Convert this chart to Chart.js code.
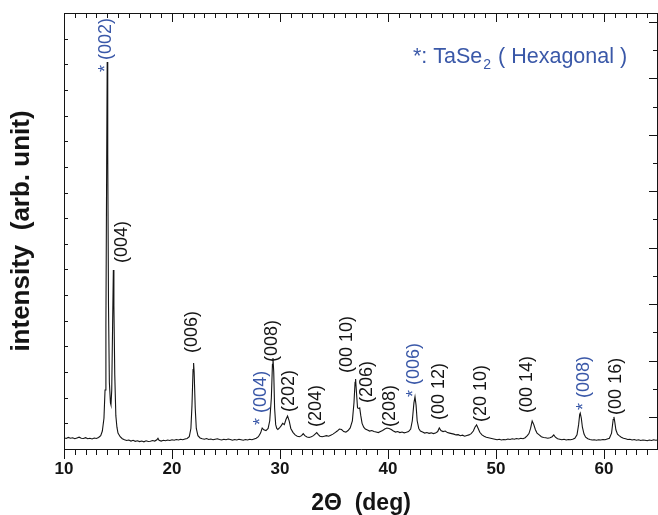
<!DOCTYPE html>
<html lang="en">
<head>
    <title>TaSe2 XRD pattern</title>
    <script src="https://cdn.jsdelivr.net/npm/chart.js"></script>
    <style>
        body {
            margin: 0;
            background: #fff;
        }
        #xrdChart {
            display: block;
        }
    </style>
</head>
<body>
    <canvas id="xrdChart" width="658" height="515"></canvas>

    <script>
        const seg10to20 = [
            [10.0,44],[10.2,41],[10.4,45],[10.6,42],[10.8,44],[11.0,40],[11.2,43],[11.4,46],[11.6,42],[11.8,41],
            [12.0,44],[12.2,40],[12.4,42],[12.6,39],[12.8,43],[13.0,41],[13.2,45],[13.4,52],[13.55,70],[13.7,120],
            [13.8,230],[13.88,480],[13.95,1100],[14.0,1509],[14.05,1150],[14.12,560],[14.2,260],[14.3,180],[14.35,172],[14.42,230],
            [14.5,480],[14.57,698],[14.62,560],[14.7,290],[14.8,130],[14.9,85],[15.0,62],[15.2,48],[15.4,40],[15.6,36],
            [15.8,33],[16.0,35],[16.2,31],[16.4,34],[16.6,30],[16.8,32],[17.0,29],[17.2,31],[17.4,28],[17.6,32],
            [17.8,29],[18.0,30],[18.2,33],[18.4,31],[18.6,36],[18.7,42],[18.8,34],[19.0,31],[19.2,34],[19.4,32],
            [19.6,35],[19.8,33]
        ];
        const seg20to30 = [
            [20.0,36],[20.2,34],[20.4,37],[20.6,35],[20.8,38],[21.0,36],[21.2,39],[21.4,41],[21.6,48],[21.75,80],
            [21.85,170],[21.95,310],[22.0,335],[22.05,300],[22.15,160],[22.25,80],[22.4,52],[22.6,43],[22.8,40],[23.0,38],
            [23.2,41],[23.4,37],[23.6,39],[23.8,36],[24.0,38],[24.2,40],[24.4,37],[24.6,35],[24.8,38],[25.0,36],
            [25.2,39],[25.4,37],[25.6,34],[25.8,37],[26.0,35],[26.2,38],[26.4,36],[26.6,34],[26.8,37],[27.0,35],
            [27.2,38],[27.4,36],[27.6,39],[27.8,42],[28.0,48],[28.2,62],[28.35,82],[28.5,75],[28.7,72],[28.9,80],
            [29.05,110],[29.2,200],[29.3,330],[29.35,355],[29.42,300],[29.5,160],[29.6,95],[29.7,80],[29.8,76],[29.95,82]
        ];
        const seg30to40 = [
            [30.1,90],[30.25,100],[30.4,95],[30.55,115],[30.7,129],[30.85,110],[31.0,80],[31.2,65],[31.4,55],[31.6,50],
            [31.8,48],[32.0,52],[32.15,60],[32.3,52],[32.5,47],[32.7,45],[32.9,48],[33.1,52],[33.3,60],[33.4,64],
            [33.55,56],[33.7,50],[33.9,48],[34.1,50],[34.3,52],[34.5,50],[34.7,54],[34.9,58],[35.1,64],[35.3,70],
            [35.5,78],[35.7,76],[35.9,68],[36.1,66],[36.3,72],[36.5,82],[36.7,110],[36.85,180],[36.95,260],[37.0,273],
            [37.08,220],[37.18,160],[37.3,158],[37.38,160],[37.48,130],[37.6,100],[37.75,85],[37.9,78],[38.1,74],[38.3,70],
            [38.5,72],[38.7,68],[38.9,66],[39.1,64],[39.3,68],[39.5,72],[39.7,78],[39.9,82]
        ];
        const seg40to50 = [
            [40.1,80],[40.3,76],[40.5,70],[40.7,66],[40.9,68],[41.1,64],[41.3,66],[41.5,63],[41.7,65],[41.9,68],
            [42.1,78],[42.25,110],[42.4,180],[42.5,203],[42.6,170],[42.7,110],[42.85,80],[43.0,70],[43.2,66],[43.4,62],
            [43.6,64],[43.8,61],[44.0,63],[44.2,60],[44.4,62],[44.6,68],[44.75,82],[44.9,72],[45.1,68],[45.3,70],
            [45.5,64],[45.7,62],[45.9,60],[46.1,58],[46.3,55],[46.5,56],[46.7,52],[46.9,54],[47.1,50],[47.3,53],
            [47.5,55],[47.7,60],[47.9,70],[48.05,85],[48.2,94],[48.35,80],[48.5,65],[48.7,55],[48.9,50],[49.1,46],
            [49.3,44],[49.5,42],[49.7,40],[49.9,38]
        ];
        const seg50to65 = [
            [50.1,36],[50.3,38],[50.5,35],[50.7,37],[50.9,36],[51.1,39],[51.3,37],[51.5,40],[51.7,38],[51.9,41],
            [52.1,39],[52.3,42],[52.5,40],[52.7,44],[52.9,52],[53.05,60],[53.2,80],[53.35,109],[53.5,95],[53.65,75],
            [53.8,62],[54.0,55],[54.2,48],[54.4,45],[54.6,44],[54.8,42],[55.0,44],[55.2,48],[55.35,55],[55.5,46],
            [55.7,40],[55.9,38],[56.1,36],[56.3,38],[56.5,35],[56.7,37],[56.9,36],[57.1,38],[57.3,42],[57.5,55],
            [57.65,95],[57.75,135],[57.8,140],[57.9,120],[58.0,85],[58.15,58],[58.3,46],[58.5,40],[58.7,37],[58.9,35],
            [59.1,36],[59.3,34],[59.5,36],[59.7,35],[59.9,37],[60.1,36],[60.3,39],[60.5,42],[60.7,62],[60.85,115],
            [60.92,125],[61.0,105],[61.1,75],[61.25,58],[61.4,52],[61.6,46],[61.8,42],[62.0,40],[62.2,37],[62.4,38],
            [62.6,35],[62.8,37],[63.0,34],[63.2,36],[63.4,33],[63.6,35],[63.8,34],[64.0,32],[64.2,35],[64.4,33],
            [64.6,36],[64.8,34],[65.0,35]
        ];

        // peak annotations: text, 2theta of the label, counts where the text starts, TaSe2 or not
        const peakText  = ['* (002)', '(004)', '(006)', '* (004)', '(008)', '(202)', '(204)', '(00 10)',
                           '(206)', '(208)', '* (006)', '(00 12)', '(20 10)', '(00 14)', '* (008)', '(00 16)'];
        const peakAt    = [13.93, 15.41, 21.89, 28.27, 29.29, 30.86, 33.36, 36.23,
                           38.10, 40.16, 42.40, 44.73, 48.62, 52.87, 58.15, 61.10];
        const peakBase  = [1470, 725, 374, 94, 339, 144, 86, 296,
                           179, 86, 203, 113, 105, 140, 152, 133];
        const peakTaSe2 = [true, false, false, true, false, false, false, false,
                           false, false, true, false, false, false, true, false];

        // axis ticks
        const xMajorTicks = [10, 20, 30, 40, 50, 60];
        const leftTicks = [100, 200, 300, 400, 500, 600, 700, 800, 900, 1000, 1100, 1200, 1300, 1400, 1500, 1600];
        const rightMajorTicks = [125, 345, 565, 785, 1005, 1225, 1445, 1665];
        const rightMinorTicks = [235, 455, 675, 895, 1115, 1335, 1555];

        const BLUE = '#3a58a8';
        const INK = '#141414';
        const FONT = 'Arial, "Liberation Sans", Helvetica, sans-serif';

        const pattern = [].concat(seg10to20, seg20to30, seg30to40, seg40to50, seg50to65)
            .map(p => ({ x: p[0], y: p[1] }));

        // frame ticks, top/right lines, peak labels and the phase note
        const decorations = {
            id: 'decorations',
            afterDraw(chart) {
                const ctx = chart.ctx;
                const xs = chart.scales.x;
                const ys = chart.scales.y;
                const a = chart.chartArea;

                ctx.save();
                ctx.strokeStyle = INK;
                ctx.lineWidth = 1;

                // top and right frame lines
                ctx.beginPath();
                ctx.moveTo(a.left, a.top + 0.5);
                ctx.lineTo(a.right, a.top + 0.5);
                ctx.moveTo(a.right - 0.5, a.top);
                ctx.lineTo(a.right - 0.5, a.bottom);
                ctx.stroke();

                // bottom ticks (outward) and top ticks (inward), every degree
                ctx.beginPath();
                for (let d = 10; d <= 65; d++) {
                    const px = Math.round(xs.getPixelForValue(d)) + 0.5;
                    const major = xMajorTicks.includes(d);
                    ctx.moveTo(px, a.bottom);
                    ctx.lineTo(px, a.bottom + (major ? 10 : 6));
                    ctx.moveTo(px, a.top);
                    ctx.lineTo(px, a.top + (major ? 9 : 5));
                }
                // left ticks (inward)
                leftTicks.forEach(v => {
                    const py = Math.round(ys.getPixelForValue(v)) + 0.5;
                    ctx.moveTo(a.left, py);
                    ctx.lineTo(a.left + 4, py);
                });
                // right ticks (inward)
                rightMajorTicks.forEach(v => {
                    const py = Math.round(ys.getPixelForValue(v)) + 0.5;
                    ctx.moveTo(a.right, py);
                    ctx.lineTo(a.right - 9, py);
                });
                rightMinorTicks.forEach(v => {
                    const py = Math.round(ys.getPixelForValue(v)) + 0.5;
                    ctx.moveTo(a.right, py);
                    ctx.lineTo(a.right - 5, py);
                });
                ctx.stroke();

                // rotated peak labels
                ctx.font = '18px ' + FONT;
                ctx.textAlign = 'left';
                ctx.textBaseline = 'middle';
                peakText.forEach((t, i) => {
                    ctx.save();
                    ctx.translate(xs.getPixelForValue(peakAt[i]), ys.getPixelForValue(peakBase[i]));
                    ctx.rotate(-Math.PI / 2);
                    ctx.fillStyle = peakTaSe2[i] ? BLUE : INK;
                    ctx.fillText(t, 0, 0);
                    ctx.restore();
                });

                // phase note with subscript
                ctx.fillStyle = BLUE;
                ctx.textBaseline = 'alphabetic';
                let tx = a.left + 349;
                const ty = a.top + 50;
                ctx.font = '21.5px ' + FONT;
                ctx.fillText('*: TaSe', tx, ty);
                tx += ctx.measureText('*: TaSe').width;
                ctx.font = '14px ' + FONT;
                ctx.fillText('2', tx + 1, ty + 6);
                tx += ctx.measureText('2').width + 2;
                ctx.font = '21.5px ' + FONT;
                ctx.fillText(' ( Hexagonal )', tx, ty);

                ctx.restore();
            }
        };

        new Chart(document.getElementById('xrdChart'), {
            type: 'line',
            data: {
                datasets: [{
                    data: pattern,
                    borderColor: INK,
                    borderWidth: 1.1,
                    pointRadius: 0,
                    tension: 0,
                    fill: false
                }]
            },
            options: {
                responsive: false,
                devicePixelRatio: 1,
                animation: false,
                parsing: false,
                layout: {
                    padding: { top: 13, right: 0, left: 0, bottom: 0 }
                },
                plugins: {
                    legend: { display: false },
                    tooltip: { enabled: false }
                },
                scales: {
                    x: {
                        type: 'linear',
                        min: 10,
                        max: 65,
                        afterFit: s => { s.height = 66; },
                        grid: { display: false, drawTicks: false },
                        border: { display: true, color: INK, width: 1 },
                        ticks: {
                            stepSize: 10,
                            includeBounds: false,
                            padding: 10,
                            color: INK,
                            font: { family: FONT, size: 17, weight: 'bold' },
                            maxRotation: 0,
                            callback: v => (v % 10 === 0 ? v : null)
                        },
                        title: {
                            display: true,
                            text: '2\u0398  (deg)',
                            color: INK,
                            font: { family: FONT, size: 23, weight: 'bold' },
                            padding: { top: 0, bottom: -2 }
                        }
                    },
                    y: {
                        type: 'linear',
                        min: 0,
                        max: 1700,
                        afterFit: s => { s.width = 64; },
                        grid: { display: false, drawTicks: false },
                        border: { display: true, color: INK, width: 1 },
                        ticks: { display: false },
                        title: {
                            display: true,
                            text: 'intensity  (arb. unit)',
                            color: INK,
                            font: { family: FONT, size: 26, weight: 'bold' },
                            padding: { top: 6, bottom: 0 }
                        }
                    }
                }
            },
            plugins: [decorations]
        });
    </script>
</body>
</html>
